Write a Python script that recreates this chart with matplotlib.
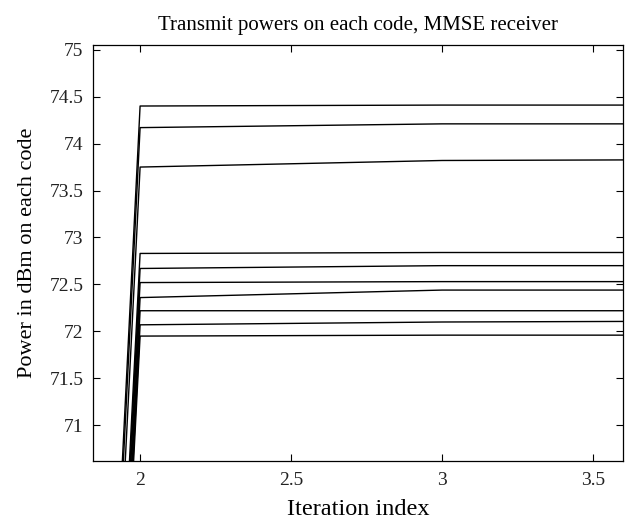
import matplotlib
matplotlib.use('Agg')
import matplotlib.pyplot as plt

# iteration index
iterations = [1, 2, 3, 4]

# transmit power (dBm) per code, one list per code
code_1 = [10.0, 74.40, 74.41, 74.41]
code_2 = [10.0, 74.17, 74.21, 74.21]
code_3 = [10.0, 73.75, 73.82, 73.83]
code_4 = [10.0, 72.83, 72.84, 72.84]
code_5 = [10.0, 72.67, 72.70, 72.70]
code_6 = [10.0, 72.52, 72.53, 72.53]
code_7 = [10.0, 72.36, 72.44, 72.44]
code_8 = [10.0, 72.22, 72.22, 72.22]
code_9 = [10.0, 72.07, 72.10, 72.11]
code_10 = [10.0, 71.95, 71.96, 71.96]

codes = [code_1, code_2, code_3, code_4, code_5,
         code_6, code_7, code_8, code_9, code_10]

x_ticks = [2, 2.5, 3, 3.5]
y_ticks = [71, 71.5, 72, 72.5, 73, 73.5, 74, 74.5, 75]

plt.rcParams['font.family'] = ['Liberation Serif', 'DejaVu Serif']

fig = plt.figure(figsize=(6.29, 5.20), dpi=100)
ax = fig.add_axes([0.1483, 0.1135, 0.991 - 0.1483, 0.9135 - 0.1135])

for powers in codes:
    ax.plot(iterations, powers, color='black', linewidth=1.0)

ax.set_xlim(1.845, 3.6)
ax.set_ylim(70.62, 75.05)
ax.set_xticks(x_ticks)
ax.set_xticklabels(['2', '2.5', '3', '3.5'])
ax.set_yticks(y_ticks)
ax.set_yticklabels(['71', '71.5', '72', '72.5', '73', '73.5', '74', '74.5', '75'])

ax.tick_params(direction='in', top=True, right=True, length=5, width=0.8,
               labelsize=14, labelcolor='#222222')
ax.tick_params(axis='x', pad=8)
ax.tick_params(axis='y', pad=7)
for spine in ax.spines.values():
    spine.set_linewidth(0.9)

ax.set_title('Transmit powers on each code, MMSE receiver', fontsize=15, pad=11)
ax.set_xlabel('Iteration index', fontsize=17.5, labelpad=7)
ax.set_ylabel('Power in dBm on each code', fontsize=16, labelpad=9)

fig.savefig('out.png', dpi=100)
